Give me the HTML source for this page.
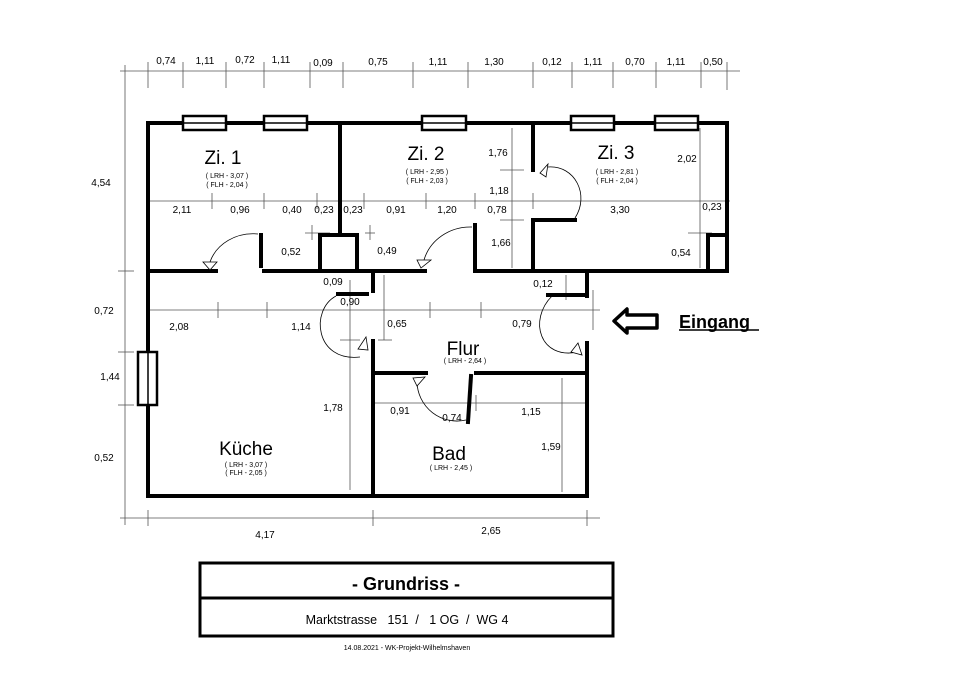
<!DOCTYPE html>
<html><head><meta charset="utf-8"><style>
html,body{margin:0;padding:0;background:#fff}
svg{display:block}
text{font-family:"Liberation Sans",Arial,sans-serif;fill:#000}
.d{font-size:10px}
.s{font-size:7px}
.r{font-size:19px}
</style></head><body>
<svg width="960" height="679" viewBox="0 0 960 679" xmlns="http://www.w3.org/2000/svg">
<g stroke="#555" stroke-width="0.8" fill="none">
<line x1="120" y1="71" x2="740" y2="71"/>
<g>
<line x1="148" y1="62" x2="148" y2="88"/><line x1="183" y1="62" x2="183" y2="88"/><line x1="226" y1="62" x2="226" y2="88"/><line x1="264" y1="62" x2="264" y2="88"/><line x1="310" y1="62" x2="310" y2="88"/><line x1="343" y1="62" x2="343" y2="88"/><line x1="413" y1="62" x2="413" y2="88"/><line x1="468" y1="62" x2="468" y2="88"/><line x1="533" y1="62" x2="533" y2="88"/><line x1="572" y1="62" x2="572" y2="88"/><line x1="613" y1="62" x2="613" y2="88"/><line x1="656" y1="62" x2="656" y2="88"/><line x1="701" y1="62" x2="701" y2="88"/><line x1="727" y1="62" x2="727" y2="90"/>
</g>
<line x1="125" y1="65" x2="125" y2="525"/>
<line x1="118" y1="271" x2="134" y2="271"/><line x1="118" y1="352" x2="134" y2="352"/><line x1="118" y1="405" x2="134" y2="405"/>
<line x1="120" y1="518" x2="600" y2="518"/>
<line x1="148" y1="510" x2="148" y2="526"/><line x1="373" y1="510" x2="373" y2="526"/><line x1="587" y1="510" x2="587" y2="526"/>
<line x1="148" y1="201" x2="730" y2="201"/>
<line x1="148" y1="310" x2="600" y2="310"/>
<line x1="373" y1="403" x2="587" y2="403"/>
<line x1="212" y1="193" x2="212" y2="209"/><line x1="264" y1="193" x2="264" y2="209"/><line x1="317" y1="193" x2="317" y2="209"/><line x1="364" y1="193" x2="364" y2="209"/><line x1="426" y1="193" x2="426" y2="209"/><line x1="475" y1="193" x2="475" y2="209"/><line x1="512" y1="128" x2="512" y2="268"/><line x1="500" y1="170" x2="524" y2="170"/><line x1="500" y1="220" x2="524" y2="220"/><line x1="533" y1="193" x2="533" y2="209"/><line x1="700" y1="128" x2="700" y2="268"/><line x1="688" y1="233" x2="712" y2="233"/>
<line x1="305" y1="233" x2="330" y2="233"/><line x1="312" y1="225" x2="312" y2="240"/><line x1="365" y1="233" x2="375" y2="233"/><line x1="370" y1="225" x2="370" y2="240"/>
<line x1="350" y1="280" x2="350" y2="490"/><line x1="384" y1="275" x2="384" y2="340"/><line x1="340" y1="340" x2="360" y2="340"/><line x1="378" y1="340" x2="392" y2="340"/>
<line x1="218" y1="302" x2="218" y2="318"/><line x1="267" y1="302" x2="267" y2="318"/><line x1="430" y1="302" x2="430" y2="318"/><line x1="481" y1="302" x2="481" y2="318"/><line x1="566" y1="275" x2="566" y2="300"/><line x1="593" y1="290" x2="593" y2="330"/>
<line x1="562" y1="378" x2="562" y2="492"/><line x1="476" y1="395" x2="476" y2="411"/>
</g>
<g stroke="#000" stroke-width="4" fill="none" stroke-linecap="square">
<polyline points="148,271 148,123 727,123 727,271 533,271"/>
<line x1="340" y1="123" x2="340" y2="233"/>
<line x1="533" y1="123" x2="533" y2="170"/>
<polyline points="575,220 533,220 533,271"/>
<line x1="148" y1="271" x2="216" y2="271"/>
<line x1="264" y1="271" x2="425" y2="271"/>
<line x1="475" y1="271" x2="587" y2="271"/>
<line x1="261" y1="235" x2="261" y2="266"/>
<polyline points="320,271 320,235 357,235 357,268"/>
<line x1="475" y1="225" x2="475" y2="271"/>
<polyline points="708,268 708,235 723,235"/>
<line x1="373" y1="271" x2="373" y2="291"/>
<line x1="587" y1="271" x2="587" y2="296"/>
<line x1="548" y1="295" x2="585" y2="295"/>
<line x1="338" y1="294" x2="367" y2="294"/>
<polyline points="148,271 148,496 587,496 587,343"/>
<line x1="373" y1="341" x2="373" y2="496"/>
<line x1="373" y1="373" x2="426" y2="373"/>
<line x1="476" y1="373" x2="587" y2="373"/>
<line x1="471" y1="376" x2="468" y2="422"/>
</g>
<g stroke="#000" stroke-width="2.5" fill="#fff">
<rect x="183" y="116" width="43" height="14"/><rect x="264" y="116" width="43" height="14"/><rect x="422" y="116" width="44" height="14"/><rect x="571" y="116" width="43" height="14"/><rect x="655" y="116" width="43" height="14"/>
<rect x="138" y="352" width="19" height="53"/>
</g>
<line x1="183" y1="123" x2="226" y2="123" stroke="#000" stroke-width="1.5"/><line x1="264" y1="123" x2="307" y2="123" stroke="#000" stroke-width="1.5"/><line x1="422" y1="123" x2="466" y2="123" stroke="#000" stroke-width="1.5"/><line x1="571" y1="123" x2="614" y2="123" stroke="#000" stroke-width="1.5"/><line x1="655" y1="123" x2="698" y2="123" stroke="#000" stroke-width="1.5"/><line x1="148" y1="352" x2="148" y2="405" stroke="#000" stroke-width="1.5"/>
<g stroke="#000" stroke-width="0.8" fill="none">
<path d="M258,234 A45,40 0 0 0 210,262"/>
<path d="M472,227 A48,45 0 0 0 424,260"/>
<path d="M548,167 C575,165 590,195 575,218"/>
<path d="M336,296 C310,310 315,362 360,357"/>
<path d="M552,296 C528,320 540,360 578,352"/>
<path d="M417,382 A40,40 0 0 0 466,420"/>
</g>
<g stroke="#000" stroke-width="0.8" fill="#fff">
<polygon points="203,262 217,262 210,270"/>
<polygon points="417,260 431,260 421,268"/>
<polygon points="540,173 548,164 546,177"/>
<polygon points="366,337 368,350 358,349"/>
<polygon points="578,343 582,355 571,352"/>
<polygon points="413,378 425,377 417,386"/>
</g>
<polygon points="614,321 627,309 627,315 657,315 657,328 627,328 627,333" fill="#fff" stroke="#000" stroke-width="3.5" stroke-linejoin="round"/>
<text x="679" y="328" style="font-size:18px;font-weight:bold">Eingang</text>
<line x1="679" y1="330" x2="759" y2="330" stroke="#000" stroke-width="1.5"/>
<g class="d" text-anchor="middle">
<text x="166" y="64">0,74</text><text x="205" y="64">1,11</text><text x="245" y="63">0,72</text><text x="281" y="63">1,11</text><text x="323" y="66">0,09</text><text x="378" y="65">0,75</text><text x="438" y="65">1,11</text><text x="494" y="65">1,30</text><text x="552" y="65">0,12</text><text x="593" y="65">1,11</text><text x="635" y="65">0,70</text><text x="676" y="65">1,11</text><text x="713" y="65">0,50</text>
<text x="101" y="186">4,54</text><text x="104" y="314">0,72</text><text x="110" y="380">1,44</text><text x="104" y="461">0,52</text>
<text x="265" y="538">4,17</text><text x="491" y="534">2,65</text>
<text x="182" y="213">2,11</text><text x="240" y="213">0,96</text><text x="292" y="213">0,40</text><text x="324" y="213">0,23</text><text x="353" y="213">0,23</text><text x="396" y="213">0,91</text><text x="447" y="213">1,20</text><text x="497" y="213">0,78</text><text x="620" y="213">3,30</text><text x="712" y="210">0,23</text>
<text x="498" y="156">1,76</text><text x="499" y="194">1,18</text><text x="501" y="246">1,66</text><text x="687" y="162">2,02</text><text x="681" y="256">0,54</text>
<text x="291" y="255">0,52</text><text x="387" y="254">0,49</text>
<text x="333" y="285">0,09</text><text x="350" y="305">0,90</text><text x="543" y="287">0,12</text>
<text x="179" y="330">2,08</text><text x="301" y="330">1,14</text><text x="397" y="327">0,65</text><text x="522" y="327">0,79</text>
<text x="333" y="411">1,78</text><text x="400" y="414">0,91</text><text x="452" y="421">0,74</text><text x="531" y="415">1,15</text><text x="551" y="450">1,59</text>
</g>
<g text-anchor="middle">
<text class="r" x="223" y="164">Zi. 1</text><text class="s" x="227" y="178">( LRH - 3,07 )</text><text class="s" x="227" y="187">( FLH - 2,04 )</text>
<text class="r" x="426" y="160">Zi. 2</text><text class="s" x="427" y="174">( LRH - 2,95 )</text><text class="s" x="427" y="183">( FLH - 2,03 )</text>
<text class="r" x="616" y="159">Zi. 3</text><text class="s" x="617" y="174">( LRH - 2,81 )</text><text class="s" x="617" y="183">( FLH - 2,04 )</text>
<text class="r" x="463" y="355">Flur</text><text class="s" x="465" y="363">( LRH - 2,64 )</text>
<text class="r" x="246" y="455">Küche</text><text class="s" x="246" y="467">( LRH - 3,07 )</text><text class="s" x="246" y="475">( FLH - 2,05 )</text>
<text class="r" x="449" y="460">Bad</text><text class="s" x="451" y="470">( LRH - 2,45 )</text>
</g>
<rect x="200" y="563" width="413" height="73" fill="none" stroke="#000" stroke-width="3"/>
<line x1="200" y1="598" x2="613" y2="598" stroke="#000" stroke-width="3"/>
<text x="406" y="590" text-anchor="middle" style="font-size:18px;font-weight:bold">- Grundriss -</text>
<text x="407" y="624" text-anchor="middle" style="font-size:12.5px;white-space:pre" xml:space="preserve">Marktstrasse   151  /   1 OG  /  WG 4</text>
<text x="407" y="650" text-anchor="middle" style="font-size:7px">14.08.2021   - WK-Projekt-Wilhelmshaven</text>
</svg>
</body></html>
